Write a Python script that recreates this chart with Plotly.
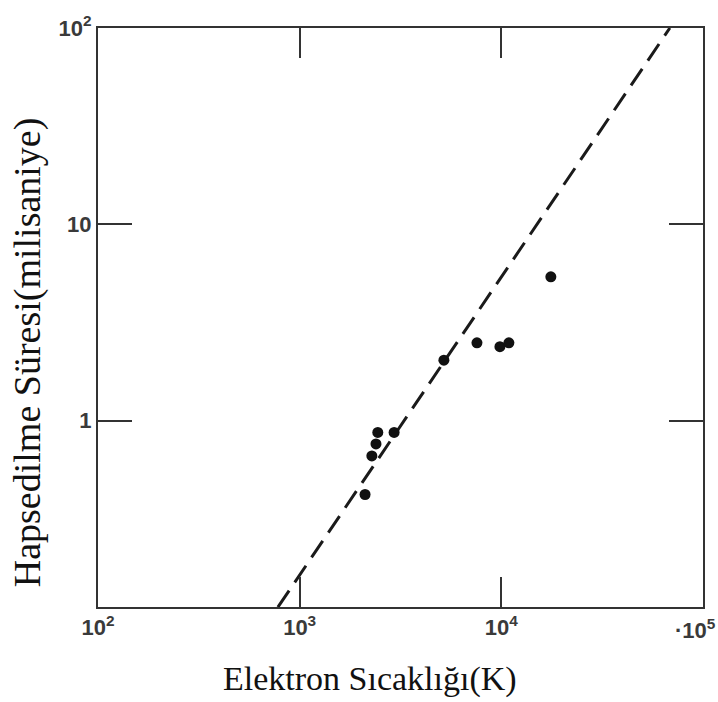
import plotly.graph_objects as go

# Data
temp_K = [2110, 2280, 2390, 2440, 2940, 5190, 7570, 9840, 10900, 17600]
time_ms = [0.42, 0.66, 0.76, 0.87, 0.87, 2.03, 2.49, 2.38, 2.49, 5.40]

fit_T = [780, 68500]
fit_tau = [0.112, 100]

x_tickvals = [100, 1000, 10000, 100000]
x_ticktext = ["10<sup>2</sup>", "10<sup>3</sup>", "10<sup>4</sup>", ""]
last_x_label = "·10<sup>5</sup>"
y_tickvals = [1, 10, 100]
y_ticktext = ["1", "10", "10<sup>2</sup>"]

x_title = "Elektron Sıcaklığı(K)"
y_title = "Hapsedilme Süresi(milisaniye)"

fig = go.Figure()
fig.add_trace(go.Scatter(x=fit_T, y=fit_tau, mode="lines",
                         line=dict(color="#1a1a1a", width=3, dash="20px,10px"),
                         showlegend=False, hoverinfo="skip"))
fig.add_trace(go.Scatter(x=temp_K, y=time_ms, mode="markers",
                         marker=dict(color="#111111", size=11),
                         showlegend=False))

tickfont = dict(family="Liberation Sans", size=22, color="#3a3a3a", weight="bold")
fig.update_xaxes(type="log", range=[2, 5], tickvals=x_tickvals, ticktext=x_ticktext,
                 ticks="inside", ticklen=30, tickwidth=2, tickcolor="#333",
                 showline=True, linewidth=2, linecolor="#333", mirror="allticks",
                 showgrid=False, zeroline=False, tickfont=tickfont)
fig.update_yaxes(type="log", range=[-0.95, 2], tickvals=y_tickvals, ticktext=y_ticktext,
                 ticks="inside", ticklen=34, tickwidth=2, tickcolor="#333",
                 showline=True, linewidth=2, linecolor="#333", mirror="allticks",
                 showgrid=False, zeroline=False, tickfont=tickfont)

fig.add_annotation(x=5, y=0, xref="x", yref="paper", text=last_x_label,
                   showarrow=False, xanchor="right", yanchor="top",
                   xshift=15, yshift=-6, font=tickfont)
fig.add_annotation(x=0.45, y=-0.124, xref="paper", yref="paper", text=x_title,
                   showarrow=False, xanchor="center", yanchor="middle",
                   font=dict(family="Liberation Serif", size=34, color="#111"))
fig.add_annotation(x=(27 - 98) / 605, y=0.44, xref="paper", yref="paper", text=y_title,
                   showarrow=False, xanchor="center", yanchor="middle", textangle=-90,
                   font=dict(family="Liberation Serif", size=38, color="#111"))

fig.update_layout(width=718, height=702, plot_bgcolor="white", paper_bgcolor="white",
                  margin=dict(l=98, r=15, t=19, b=95))
fig.write_html("out.html")
